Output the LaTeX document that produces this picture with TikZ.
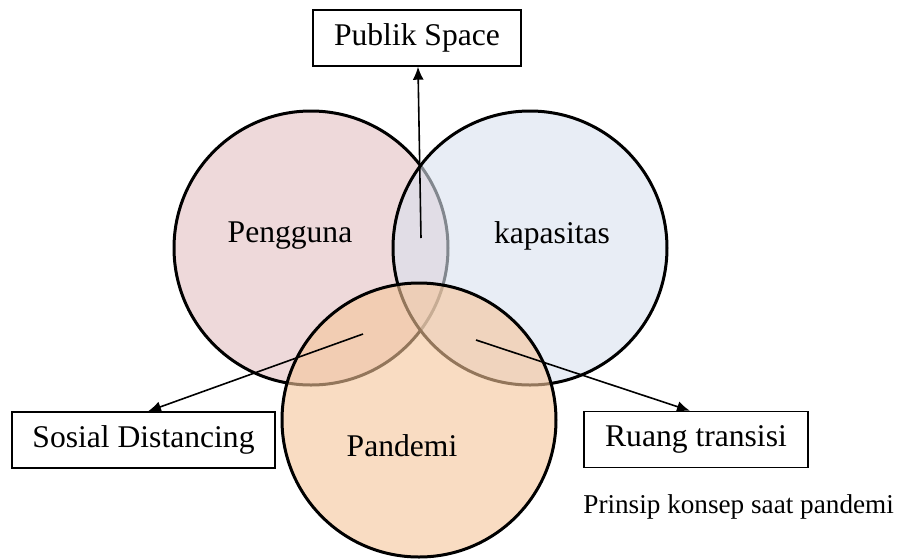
\documentclass[tikz,border=0pt]{standalone}
\usepackage{fontspec}
\setmainfont{Liberation Serif}
\usetikzlibrary{arrows.meta}
\definecolor{penggunafill}{RGB}{238,217,218}
\definecolor{kapasitasfill}{RGB}{217,225,238}
\definecolor{pandemifill}{RGB}{245,197,153}
\begin{document}
\begin{tikzpicture}[x=0.5pt,y=-0.5pt,
    venn/.style={circle,draw,line width=1.5pt,minimum size=137pt,inner sep=0pt},
    labelbox/.style={draw,line width=0.7pt,inner sep=0pt,minimum height=28pt,
      font=\fontsize{15.8}{19}\selectfont},
    vennlabel/.style={font=\fontsize{15.8}{19}\selectfont},
    link/.style={-{Latex[length=6.5pt,width=5.5pt]},line width=0.8pt}]
  \useasboundingbox (0,0) rectangle (902,559);
  % the three circles
  \node[venn,fill=penggunafill] (pengguna) at (311,248) {};
  \node[venn,fill=kapasitasfill,fill opacity=0.6] (kapasitas) at (530,248) {};
  \node[venn,fill=pandemifill,fill opacity=0.6] (pandemi) at (419,420) {};
  \node[vennlabel] (pengguna-l) at (290,236) {Pengguna};
  \node[vennlabel] (kapasitas-l) at (552,236) {kapasitas};
  \node[vennlabel] (pandemi-l) at (402,446) {Pandemi};
  % boxes
  \node[labelbox,minimum width=104pt] (publik) at (417,38) {Publik Space};
  \node[labelbox,minimum width=131.5pt] (sosial) at (143.5,440) {Sosial Distancing};
  \node[labelbox,minimum width=112pt] (ruang) at (696,439.5) {Ruang transisi};
  \node[anchor=west,inner sep=0pt,font=\fontsize{13.6}{16}\selectfont] (caption) at (583,507)
    {Prinsip konsep saat pandemi};
  % arrows
  \coordinate (top-in) at (421,238);
  \coordinate (left-in) at (363,334);
  \coordinate (right-in) at (476,340);
  \begin{scope}[link]
    \draw (top-in) to ([xshift=0.5pt]publik.south);
    \draw (left-in) to ([xshift=2.25pt]sosial.north);
    \draw (right-in) to ([xshift=-3pt]ruang.north);
  \end{scope}
\end{tikzpicture}
\end{document}
